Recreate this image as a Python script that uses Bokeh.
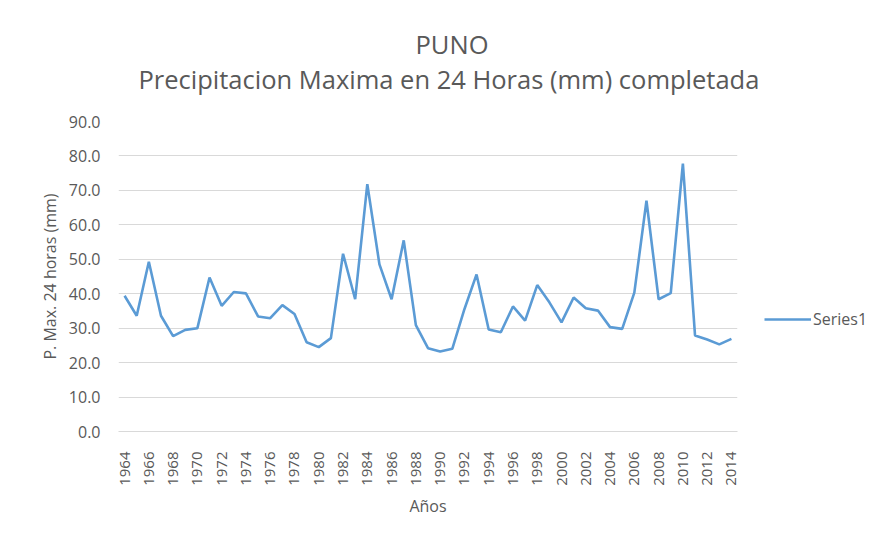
from bokeh.plotting import figure
from bokeh.layouts import row
from bokeh.models import (Range1d, FixedTicker, PrintfTickFormatter, Title, Legend, LegendItem, ColumnDataSource)
from bokeh.embed import file_html
from bokeh.resources import INLINE
import math

years = list(range(1964, 2015))
precip = [39.4, 33.6, 49.3, 33.6, 27.7, 29.5, 30.0, 44.7, 36.5, 40.5,
          40.1, 33.4, 32.9, 36.7, 34.1, 25.9, 24.5, 27.1, 51.6, 38.4,
          71.8, 48.5, 38.4, 55.5, 30.9, 24.2, 23.2, 24.0, 35.5, 45.6,
          29.6, 28.8, 36.3, 32.2, 42.5, 37.5, 31.7, 38.9, 35.8, 35.1,
          30.3, 29.8, 40.3, 67.0, 38.4, 40.2, 77.8, 27.9, 26.7, 25.3,
          26.9]
year_ticks = years[::2]
y_ticks = [0, 10, 20, 30, 40, 50, 60, 70, 80, 90]
series_name = "Series1"
title_main = "PUNO"
title_sub = "Precipitacion Maxima en 24 Horas (mm) completada"
x_label = "Años"
y_label = "P. Max. 24 horas (mm)"

FONT = "Open Sans"
GRAY = "#595959"
BLUE = "#5B9BD5"

src = ColumnDataSource(dict(year=years, p=precip))

p = figure(width=764, height=519, output_backend="svg", toolbar_location=None,
           x_range=Range1d(1963.5, 2014.5), y_range=Range1d(0, 90),
           min_border_left=118, min_border_right=27, min_border_top=121,
           min_border_bottom=85, background_fill_color="white",
           border_fill_color="white", outline_line_color=None)
p.title.visible = False

sub = Title(text=title_sub, align="left", text_font=FONT, text_font_size="25.5px",
            text_font_style="normal", text_color=GRAY, standoff=51, offset=20)
p.add_layout(sub, "above")
main = Title(text=title_main, align="left", text_font=FONT, text_font_size="25.5px",
             text_font_style="normal", text_color=GRAY, standoff=-53, offset=297)
p.add_layout(main, "above")

r = p.line("year", "p", source=src, line_color=BLUE, line_width=2.6)

p.xgrid.grid_line_color = None
p.ygrid.grid_line_color = "#D9D9D9"
p.ygrid.grid_line_width = 1

p.xaxis.ticker = FixedTicker(ticks=year_ticks)
p.xaxis.major_label_orientation = math.pi / 2
p.xaxis.major_label_text_font = FONT
p.xaxis.major_label_text_font_size = "15px"
p.xaxis.major_label_text_color = GRAY
p.xaxis.major_label_standoff = 14
p.xaxis.axis_line_color = "#D9D9D9"
p.xaxis.major_tick_line_color = None
p.xaxis.minor_tick_line_color = None
p.xaxis.axis_label = x_label
p.xaxis.axis_label_text_font = FONT
p.xaxis.axis_label_text_font_size = "16px"
p.xaxis.axis_label_text_font_style = "normal"
p.xaxis.axis_label_text_color = GRAY
p.xaxis.axis_label_standoff = 6

p.yaxis.ticker = FixedTicker(ticks=y_ticks)
p.yaxis.formatter = PrintfTickFormatter(format="%.1f")
p.yaxis.major_label_text_font = FONT
p.yaxis.major_label_text_font_size = "16px"
p.yaxis.major_label_text_color = GRAY
p.yaxis.major_label_standoff = 12
p.yaxis.axis_line_color = None
p.yaxis.major_tick_line_color = None
p.yaxis.minor_tick_line_color = None
p.yaxis.axis_label = y_label
p.yaxis.axis_label_text_font = FONT
p.yaxis.axis_label_text_font_size = "16px"
p.yaxis.axis_label_text_font_style = "normal"
p.yaxis.axis_label_text_color = GRAY
p.yaxis.axis_label_standoff = 5

# legend panel to the right of the chart
lf = figure(width=113, height=519, output_backend="svg", toolbar_location=None,
            x_range=Range1d(0, 1), y_range=Range1d(0, 1),
            x_axis_location=None, y_axis_location=None,
            min_border_left=0, min_border_right=0, min_border_top=0, min_border_bottom=0,
            background_fill_color="white", border_fill_color="white", outline_line_color=None)
lf.grid.visible = False
lr = lf.line("year", "p", source=src, line_color=BLUE, line_width=2.6)

legend = Legend(items=[LegendItem(label=series_name, renderers=[lr])],
                location=(0, 101), background_fill_alpha=0, border_line_color=None,
                padding=0, margin=0, glyph_width=47, glyph_height=22, label_standoff=2,
                label_text_font=FONT, label_text_font_size="16px", label_text_color=GRAY)
lf.add_layout(legend)

layout = row(p, lf)
open("out.html", "w").write(file_html(layout, INLINE))
